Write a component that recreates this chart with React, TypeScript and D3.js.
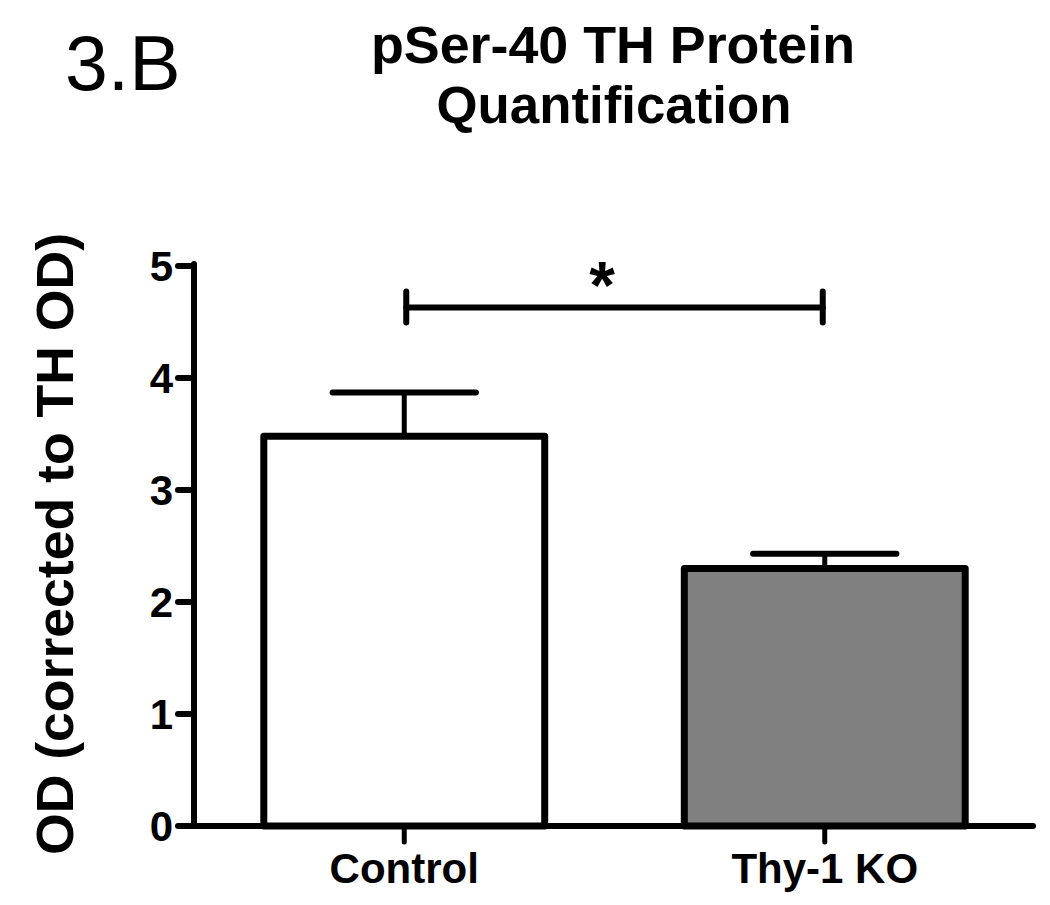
import * as d3 from 'd3'
import { useEffect, useRef } from 'react'

// data
const groups = ['Control', 'Thy-1 KO']
const means = [3.48, 2.3]
const sems = [0.39, 0.13]
const fills = ['#ffffff', '#808080']
const yTicks = [0, 1, 2, 3, 4, 5]

const App = () => {
  const ref = useRef<SVGSVGElement | null>(null)

  useEffect(() => {
    if (!ref.current) return
    const svg = d3.select(ref.current)
    svg.selectAll('*').remove()

    const font = "'Liberation Sans', Arial, Helvetica, sans-serif"
    const x0 = 194
    const x1 = 1035

    const x = d3.scaleBand<string>().domain(groups).range([x0, x1]).paddingInner(0.332).paddingOuter(0.166)
    const y = d3.scaleLinear().domain([0, 5]).range([826, 266])

    // panel letter + title
    svg.append('text').attr('x', 65).attr('y', 90).attr('font-family', font).attr('font-size', 77).text('3.B')

    const title = svg.append('g').attr('font-family', font).attr('font-weight', 'bold').attr('font-size', 51).attr('text-anchor', 'middle')
    title.append('text').attr('x', 613).attr('y', 63).attr('textLength', 484).attr('lengthAdjust', 'spacingAndGlyphs').text('pSer-40 TH Protein')
    title.append('text').attr('x', 614).attr('y', 123).attr('textLength', 355).attr('lengthAdjust', 'spacingAndGlyphs').text('Quantification')

    // y label
    svg
      .append('text')
      .attr('transform', 'translate(73,544) rotate(-90)')
      .attr('text-anchor', 'middle')
      .attr('font-family', font)
      .attr('font-weight', 'bold')
      .attr('font-size', 52)
      .attr('textLength', 622)
      .attr('lengthAdjust', 'spacingAndGlyphs')
      .text('OD (corrected to TH OD)')

    // bars
    svg
      .selectAll('rect.bar')
      .data(groups)
      .enter()
      .append('rect')
      .attr('class', 'bar')
      .attr('x', (d) => x(d)!)
      .attr('y', (_, i) => y(means[i]))
      .attr('width', x.bandwidth())
      .attr('height', (_, i) => y(0) - y(means[i]))
      .attr('fill', (_, i) => fills[i])
      .attr('stroke', '#000')
      .attr('stroke-width', 7)
      .attr('stroke-linejoin', 'round')

    // error bars (upper only)
    const capW = x.bandwidth() * 0.51
    groups.forEach((g, i) => {
      const cx = x(g)! + x.bandwidth() / 2
      svg
        .append('line')
        .attr('x1', cx)
        .attr('x2', cx)
        .attr('y1', y(means[i]))
        .attr('y2', y(means[i] + sems[i]))
        .attr('stroke', '#000')
        .attr('stroke-width', 5)
      svg
        .append('line')
        .attr('x1', cx - capW / 2)
        .attr('x2', cx + capW / 2)
        .attr('y1', y(means[i] + sems[i]))
        .attr('y2', y(means[i] + sems[i]))
        .attr('stroke', '#000')
        .attr('stroke-width', 6)
        .attr('stroke-linecap', 'round')
    })

    // axes
    const axis = svg.append('g').attr('stroke', '#000').attr('stroke-width', 6).attr('stroke-linecap', 'round')
    axis.append('line').attr('x1', x0).attr('x2', x0).attr('y1', y(5) - 2).attr('y2', y(0))
    axis.append('line').attr('x1', x0).attr('x2', x1 - 2).attr('y1', y(0)).attr('y2', y(0))

    axis
      .selectAll('line.ytick')
      .data(yTicks)
      .enter()
      .append('line')
      .attr('class', 'ytick')
      .attr('x1', x0 - 16)
      .attr('x2', x0)
      .attr('y1', (d) => y(d))
      .attr('y2', (d) => y(d))

    axis
      .selectAll('line.xtick')
      .data(groups)
      .enter()
      .append('line')
      .attr('class', 'xtick')
      .attr('x1', (d) => x(d)! + x.bandwidth() / 2)
      .attr('x2', (d) => x(d)! + x.bandwidth() / 2)
      .attr('y1', y(0))
      .attr('y2', y(0) + 16)
      .attr('stroke-width', 5)

    const labels = svg.append('g').attr('font-family', font).attr('font-weight', 'bold').attr('font-size', 42)
    labels
      .selectAll('text.ylab')
      .data(yTicks)
      .enter()
      .append('text')
      .attr('class', 'ylab')
      .attr('x', x0 - 21)
      .attr('y', (d) => y(d))
      .attr('dy', '0.36em')
      .attr('text-anchor', 'end')
      .text((d) => d)

    labels
      .selectAll('text.xlab')
      .data(groups)
      .enter()
      .append('text')
      .attr('class', 'xlab')
      .attr('x', (d) => x(d)! + x.bandwidth() / 2)
      .attr('y', 883)
      .attr('text-anchor', 'middle')
      .text((d) => d)

    // significance bracket
    const sigY = 4.63
    const bx1 = x(groups[0])! + x.bandwidth() / 2 + 2
    const bx2 = x(groups[1])! + x.bandwidth() / 2 - 2
    const br = svg.append('g').attr('stroke', '#000').attr('stroke-width', 6).attr('stroke-linecap', 'round')
    br.append('line').attr('x1', bx1).attr('x2', bx2).attr('y1', y(sigY)).attr('y2', y(sigY))
    ;[bx1, bx2].forEach((bx) => {
      br.append('line').attr('x1', bx).attr('x2', bx).attr('y1', y(sigY) - 16).attr('y2', y(sigY) + 15)
    })
    svg
      .append('text')
      .attr('x', 602)
      .attr('y', 308)
      .attr('text-anchor', 'middle')
      .attr('font-family', font)
      .attr('font-weight', 'bold')
      .attr('font-size', 66)
      .text('*')
  }, [])

  return (
    <svg
      ref={ref}
      width={1050}
      height={905}
      style={{ position: 'absolute', left: 0, top: 0, background: '#fff' }}
    />
  )
}

export default App
